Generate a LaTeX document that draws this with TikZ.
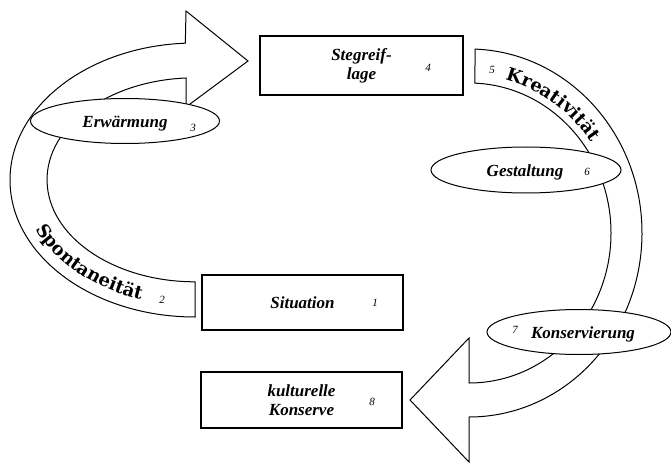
\documentclass[tikz,border=0pt]{standalone}
\usepackage{fontspec}
\setmainfont{Liberation Serif}
\newfontfamily\bandfont{DejaVu Serif}
\usetikzlibrary{shapes.geometric,decorations.text}
\tikzset{>=latex}
\tikzset{
  box/.style={draw,line width=1.3pt,align=center,inner sep=0pt,
    font=\fontsize{17}{19}\selectfont\bfseries\itshape},
  oval/.style={draw,ellipse,fill=white,line width=1pt,inner sep=0pt},
  label/.style={font=\fontsize{17}{19}\selectfont\bfseries\itshape,inner sep=0pt},
  band/.style={draw,fill=white,line width=1pt,line join=miter},
  num/.style={font=\fontsize{11}{13}\selectfont\itshape,inner sep=0pt}
}

\begin{document}
\begin{tikzpicture}[x=1pt,y=1pt]
                \useasboundingbox (0,0) rectangle (671,464);
                \draw[band] (195,147) arc[start angle=270,end angle=93,x radius=185,y radius=137]
                  -- (186,453) -- (248,403) -- (186,357) -- (186,386)
                  arc[start angle=93.5,end angle=270,x radius=148,y radius=102] -- cycle;
                \draw[band] (469,231) ++(88:173 and 184) arc[start angle=88,end angle=-90,x radius=173,y radius=184]
                  -- (469,2) -- (410,64) -- (469,126) -- (469,81)
                  arc[start angle=-90,end angle=87.6,x radius=142,y radius=150] -- cycle;
                \path[decorate,decoration={text along path,text align=center,
                  text={|\bandfont\bfseries\fontsize{18}{20}\selectfont|Spontaneität}}]
                  (195,284) ++(200:173 and 126) arc[start angle=200,end angle=254,x radius=173,y radius=126];
                \path[decorate,decoration={text along path,text align=center,
                  text={|\bandfont\bfseries\fontsize{18}{20}\selectfont|Kreativität}}]
                  (469,231) ++(79:149 and 158) arc[start angle=79,end angle=32,x radius=149,y radius=158];
                \node[num] (n2) at (162,164) {2};
                \node[num] (n5) at (492,394) {5};
                \node[oval,minimum width=189pt,minimum height=45pt] (erw) at (125,343) {};
                \node[oval,minimum width=190pt,minimum height=46pt] (gest) at (526,294) {};
                \node[oval,minimum width=184pt,minimum height=45pt] (kons) at (579,132) {};
                \node[label] (erwt) at (125,340) {Erwärmung};
                \node[label] (gestt) at (525,292) {Gestaltung};
                \node[label] (konst) at (583,130) {Konservierung};
                \node[num] (n3) at (193,336) {3};
                \node[num] (n6) at (587,292) {6};
                \node[num] (n7) at (515,134) {7};
                \node[box,minimum width=203pt,minimum height=59pt] (steg) at (361.5,398.5) {Stegreif-\\lage};
                \node[box,minimum width=201pt,minimum height=55pt] (sit) at (302.5,161.5) {Situation};
                \node[box,minimum width=201pt,minimum height=56pt] (kult) at (301.5,64) {kulturelle\\Konserve};
                \node[num] (n4) at (428,396) {4};
                \node[num] (n1) at (375,161) {1};
                \node[num] (n8) at (372,62) {8};
            \end{tikzpicture}
\end{document}
